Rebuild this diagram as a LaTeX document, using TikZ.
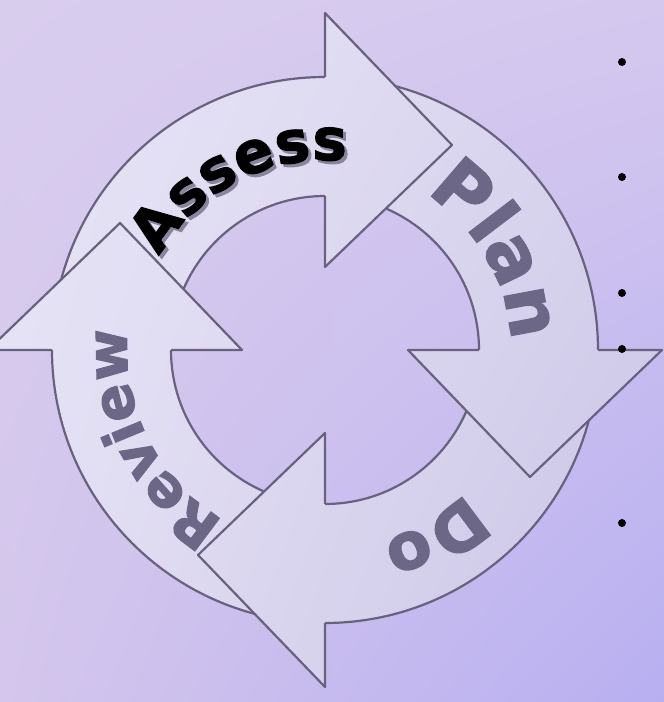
\documentclass[tikz,border=0pt]{standalone}
\usepackage{fontspec}
\newfontfamily\cyclefont{DejaVu Sans}[BoldFeatures={FakeBold=2}]
\usetikzlibrary{calc,decorations.text,shadings}

\definecolor{rimline}{HTML}{68627F}
\definecolor{wordgray}{HTML}{6C6687}
\definecolor{wordshadow}{HTML}{8A849C}
\definecolor{bgul}{HTML}{D9CDEE}
\definecolor{bgur}{HTML}{D5C8EF}
\definecolor{bgll}{HTML}{D4C6EC}
\definecolor{bglr}{HTML}{B8AFF1}
\definecolor{arul}{HTML}{E9E5F7}
\definecolor{arur}{HTML}{D8D4EE}
\definecolor{arll}{HTML}{E4E0F4}
\definecolor{arlr}{HTML}{C8C2E4}

\newcommand\assessfont{\cyclefont\bfseries\fontsize{58}{58}\selectfont}
\newcommand\planfont{\cyclefont\bfseries\fontsize{72}{72}\selectfont}
\newcommand\dofont{\cyclefont\bfseries\fontsize{65}{65}\selectfont}
\newcommand\reviewfont{\cyclefont\bfseries\fontsize{56}{56}\selectfont}

% one curved arrow of the ring, head at angle #1
\newcommand\cycarrow[1]{(C) ++(#1+87:273) arc[start angle=#1+87, end angle=#1, radius=273]
  -- ($(C)+(#1:337)$) -- ($(C)+(#1:205)+(#1-90:127)$) -- ($(C)+(#1:83)$)
  -- ($(C)+(#1:154)$) arc[start angle=#1, end angle=#1+87, radius=154] -- cycle}
\newcommand\cychead[1]{($(C)+(#1:83)$) -- ($(C)+(#1:337)$) -- ($(C)+(#1:205)+(#1-90:127)$) -- cycle}

\begin{document}
\begin{tikzpicture}[
    x=1pt, y=1pt,
    rim/.style={draw=rimline, line width=2.2pt, line join=round},
    arrowfill/.style={upper left=arul, upper right=arur, lower left=arll, lower right=arlr},
    bulletdot/.style={circle, fill=black, inner sep=0pt, minimum size=8pt},
]
\useasboundingbox (0,0) rectangle (664,702);
\clip (0,0) rectangle (664,702);
\shade[upper left=bgul, upper right=bgur, lower left=bgll, lower right=bglr] (0,0) rectangle (664,702);
\coordinate (C) at (325,352);

% bodies first, then the heads laid over the next tail
\begin{scope}
  \clip \foreach \a in {0,90,180,270} {\cycarrow{\a}};
  \shade[arrowfill] (0,0) rectangle (664,702);
\end{scope}
\foreach \a in {0,90,180,270} {
  \draw[rim] (C) ++(\a+87:273) arc[start angle=\a+87, end angle=\a, radius=273];
  \draw[rim] (C) ++(\a+87:154) arc[start angle=\a+87, end angle=\a, radius=154];
}
\begin{scope}
  \clip \foreach \a in {0,90,180,270} {\cychead{\a}};
  \shade[arrowfill] (0,0) rectangle (664,702);
\end{scope}
\foreach \a in {0,90,180,270}
  \draw[rim] ($(C)+(\a:154)$) -- ($(C)+(\a:83)$) -- ($(C)+(\a:205)+(\a-90:127)$)
    -- ($(C)+(\a:337)$) -- ($(C)+(\a:273)$);

% words along the ring
\path[decorate, decoration={text along path, text color=wordshadow,
    text={|\assessfont|Assess}, text align=center}]
  ($(C)+(3,-3)$) ++(197:190) arc[start angle=197, end angle=37, radius=190];
\path[decorate, decoration={text along path, text color=black,
    text={|\assessfont|Assess}, text align=center}]
  (C) ++(197:190) arc[start angle=197, end angle=37, radius=190];
\path[decorate, decoration={text along path, text color=wordgray,
    text={|\planfont|Plan}, text align=center}]
  (C) ++(110:186) arc[start angle=110, end angle=-50, radius=186];
\path[decorate, decoration={text along path, text color=wordgray,
    text={|\dofont|Do}, text align=center}]
  (C) ++(20.5:200) arc[start angle=20.5, end angle=-139.5, radius=200];
\path[decorate, decoration={text along path, text color=wordgray,
    text={|\reviewfont|Review}, text align=center}]
  (C) ++(286.6:198) arc[start angle=286.6, end angle=126.6, radius=198];

\foreach \y [count=\i] in {640,525,409,353,179}
  \node[bulletdot] (bul\i) at (622,\y) {};
\end{tikzpicture}
\end{document}
